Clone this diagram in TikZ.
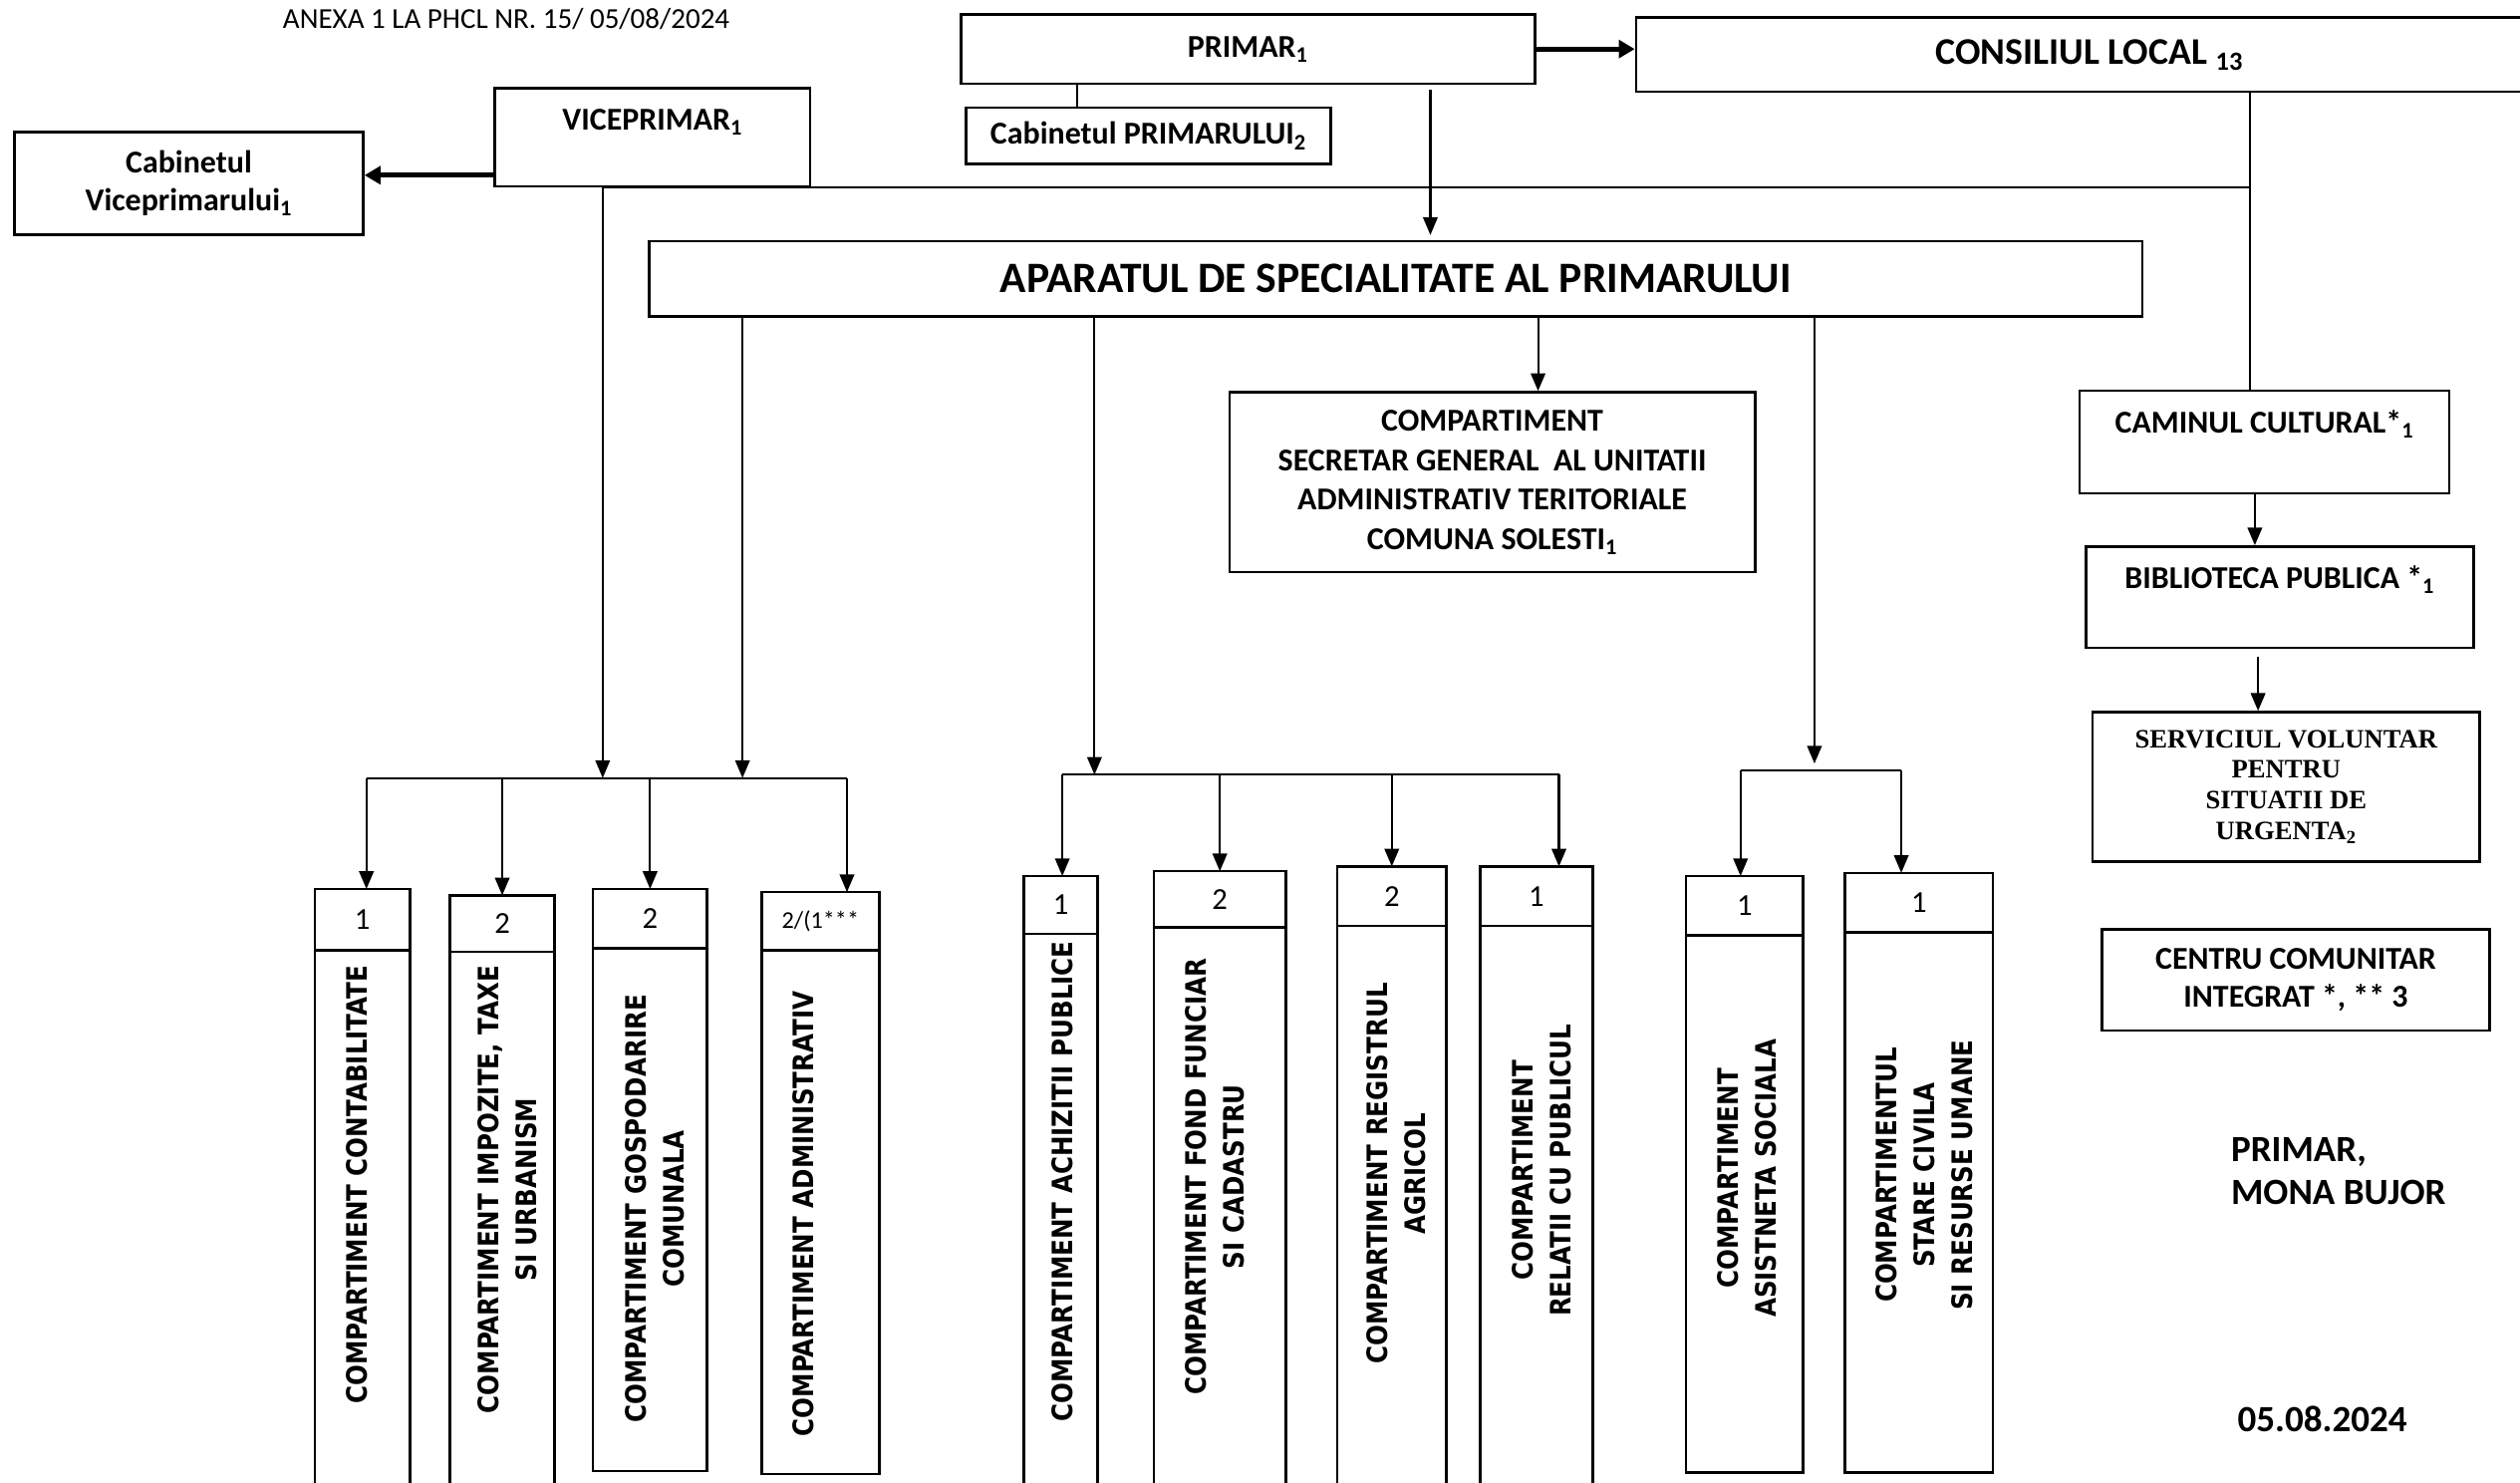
\documentclass[tikz,border=0pt]{standalone}
\usepackage{fontspec}
\setmainfont{Carlito}
\newfontfamily\vertfont[FakeStretch=0.87]{DejaVu Sans}
\newfontfamily\serviciufont{Liberation Serif}
\usetikzlibrary{arrows.meta}

\tikzset{
  box/.style={draw, line width=1.6pt, inner sep=0pt, align=center, font=\fontsize{19.8}{24}\selectfont\bfseries},
  numcell/.style={draw, line width=1.6pt, inner sep=0pt, outer sep=0pt, font=\fontsize{19}{22}\selectfont},
  vtext/.style={rotate=90, align=center, inner sep=0pt, font=\vertfont\fontsize{17.5}{23.5}\selectfont\bfseries},
  link/.style={line width=1.3pt},
  arr/.style={line width=1.3pt, -{Triangle[length=11pt, width=9pt]}},
  bigarr/.style={line width=3pt, -{Triangle[length=10pt, width=11pt]}},
}

\begin{document}
\begin{tikzpicture}[x=1pt, y=-1pt]
\useasboundingbox (0,0) rectangle (1568,922);
\fill[white] (0,0) rectangle (1568,922);

\node[font=\fontsize{18}{22}\selectfont] (anexa) at (315,12) {ANEXA 1 LA PHCL NR. 15/ 05/08/2024};

\node[box, minimum width=357pt, minimum height=43pt] (primar) at (776.5,30.5) {PRIMAR\textsubscript{1}};
\node[box, minimum width=227pt, minimum height=35pt] (cabprimar) at (714.5,84.5) {Cabinetul PRIMARULUI\textsubscript{2}};
\node[box, minimum width=564pt, minimum height=46pt, font=\fontsize{23.4}{28}\selectfont\bfseries] (consiliu) at (1300,34) {CONSILIUL LOCAL \textsubscript{13}};
\node[box, minimum width=196pt, minimum height=61pt] (vice) at (406,85.5) {VICEPRIMAR\textsubscript{1}\\[-9pt] \strut};
\node[box, minimum width=217pt, minimum height=64pt] (cabvice) at (117.5,114) {Cabinetul\\Viceprimarului\textsubscript{1}};
\node[box, minimum width=929pt, minimum height=47pt, font=\fontsize{27}{30}\selectfont\bfseries] (aparat) at (868.5,173.5) {APARATUL DE SPECIALITATE AL PRIMARULUI};
\node[box, minimum width=327pt, minimum height=112pt, font=\fontsize{19.8}{24.5}\selectfont\bfseries] (secretar) at (928.5,300) {COMPARTIMENT\\SECRETAR GENERAL\ \ AL UNITATII\\ADMINISTRATIV TERITORIALE\\COMUNA SOLESTI\textsubscript{1}};

\node[box, minimum width=230pt, minimum height=64pt] (camin) at (1409,275) {CAMINUL CULTURAL*\textsubscript{1}\\[-6pt] \strut};
\node[box, minimum width=241pt, minimum height=63pt] (biblio) at (1418.5,371.5) {BIBLIOTECA PUBLICA *\textsubscript{1}\\[-6pt] \strut};
\node[box, minimum width=241pt, minimum height=93pt, font=\serviciufont\fontsize{16.5}{19}\selectfont\bfseries] (voluntar) at (1422.5,489.5) {SERVICIUL VOLUNTAR\\PENTRU\\SITUATII DE\\URGENTA\textsubscript{2}};
\node[box, minimum width=241pt, minimum height=63pt] (centru) at (1428.5,609.5) {CENTRU COMUNITAR\\INTEGRAT *, ** 3};

\node[anchor=west, align=left, inner sep=0pt, font=\fontsize{23}{27}\selectfont\bfseries] (semnatura) at (1388,728.5) {PRIMAR,\\MONA BUJOR};
\node[font=\fontsize{23}{27}\selectfont\bfseries] (data) at (1445,883) {05.08.2024};

\node[numcell, minimum width=59pt, minimum height=38pt] (nrA) at (225.5,572) {1};
\node[numcell, minimum width=59pt, minimum height=339pt, anchor=north] (bodyA) at (nrA.south) {};
\node[vtext] (txA) at (222,737) {COMPARTIMENT CONTABILITATE};

\node[numcell, minimum width=65pt, minimum height=35pt] (nrB) at (312.5,574.5) {2};
\node[numcell, minimum width=65pt, minimum height=338pt, anchor=north] (bodyB) at (nrB.south) {};
\node[vtext] (txB) at (315.5,740) {COMPARTIMENT IMPOZITE, TAXE\\SI URBANISM};

\node[numcell, minimum width=71pt, minimum height=37pt] (nrC) at (404.5,571.5) {2};
\node[numcell, minimum width=71pt, minimum height=325pt, anchor=north] (bodyC) at (nrC.south) {};
\node[vtext] (txC) at (407.5,752) {COMPARTIMENT GOSPODARIRE\\COMUNALA};

\node[numcell, minimum width=73pt, minimum height=36pt, font=\fontsize{15}{18}\selectfont] (nrD) at (510.5,573) {2/(1***};
\node[numcell, minimum width=73pt, minimum height=326pt, anchor=north] (bodyD) at (nrD.south) {};
\node[vtext] (txD) at (500,755) {COMPARTIMENT ADMINISTRATIV};

\node[numcell, minimum width=46pt, minimum height=36pt] (nrE) at (660,563) {1};
\node[numcell, minimum width=46pt, minimum height=349pt, anchor=north] (bodyE) at (nrE.south) {};
\node[vtext] (txE) at (661,735) {COMPARTIMENT ACHIZITII PUBLICE};

\node[numcell, minimum width=82pt, minimum height=35pt] (nrF) at (759,559.5) {2};
\node[numcell, minimum width=82pt, minimum height=353pt, anchor=north] (bodyF) at (nrF.south) {};
\node[vtext] (txF) at (756,732) {COMPARTIMENT FOND FUNCIAR\\SI CADASTRU};

\node[numcell, minimum width=68pt, minimum height=37pt] (nrG) at (866,557.5) {2};
\node[numcell, minimum width=68pt, minimum height=354pt, anchor=north] (bodyG) at (nrG.south) {};
\node[vtext] (txG) at (868.5,730) {COMPARTIMENT REGISTRUL\\AGRICOL};

\node[numcell, minimum width=70pt, minimum height=37pt] (nrH) at (956,557.5) {1};
\node[numcell, minimum width=70pt, minimum height=354pt, anchor=north] (bodyH) at (nrH.south) {};
\node[vtext] (txH) at (959,728) {COMPARTIMENT\\RELATII CU PUBLICUL};

\node[numcell, minimum width=73pt, minimum height=37pt] (nrI) at (1085.5,563.5) {1};
\node[numcell, minimum width=73pt, minimum height=334pt, anchor=north] (bodyI) at (nrI.south) {};
\node[vtext] (txI) at (1087,733) {COMPARTIMENT\\ASISTNETA SOCIALA};

\node[numcell, minimum width=92pt, minimum height=37pt] (nrJ) at (1194,561.5) {1};
\node[numcell, minimum width=92pt, minimum height=336pt, anchor=north] (bodyJ) at (nrJ.south) {};
\node[vtext] (txJ) at (1197.5,731) {COMPARTIMENTUL\\STARE CIVILA\\SI RESURSE UMANE};

\coordinate (xcab) at (670,0);
\coordinate (xap) at (890,0);
\coordinate (xvice) at (375,0);
\coordinate (xcl) at (1400,0);
\coordinate (xcam) at (1403,0);
\coordinate (xbib) at (1405,0);
\coordinate (yvice) at (0,109);
\coordinate (xap1) at (462,0);
\coordinate (xap2) at (681,0);
\coordinate (xap3) at (957,0);
\coordinate (xap4) at (1129,0);
\coordinate (bus1w) at (228,484);
\coordinate (bus1e) at (527,484);
\coordinate (bus2w) at (661,482);
\coordinate (bus2e) at (970,482);
\coordinate (bus3w) at (1083,479);
\coordinate (bus3e) at (1183,479);

\draw[bigarr] (primar.east) -- (consiliu.west |- primar.east);
\draw[link] (primar.south -| xcab) -- (cabprimar.north -| xcab);
\draw[arr, shorten <=3pt, shorten >=3pt] (primar.south -| xap) -- (aparat.north -| xap);
\draw[bigarr] (vice.west |- yvice) -- (cabvice.east |- yvice);
\draw[link] (xvice |- vice.south) -- (xcl |- vice.south);
\draw[link] (consiliu.south -| xcl) -- (camin.north -| xcl);
\draw[arr] (camin.south -| xcam) -- (biblio.north -| xcam);
\draw[arr, shorten <=5pt] (biblio.south -| xbib) -- (voluntar.north -| xbib);

\draw[arr] (vice.south -| xvice) -- (xvice |- bus1w);
\draw[arr] (aparat.south -| xap1) -- (xap1 |- bus1w);
\draw[link] (bus1w) -- (bus1e);
\draw[arr] (bus1w) -- (bus1w |- nrA.north);
\draw[arr] (nrB.north |- bus1w) -- (nrB.north);
\draw[arr] (nrC.north |- bus1w) -- (nrC.north);
\draw[arr] (bus1e) -- (bus1e |- nrD.north);

\draw[arr] (aparat.south -| xap2) -- (xap2 |- bus2w);
\draw[link] (bus2w) -- (bus2e);
\draw[arr] (bus2w) -- (bus2w |- nrE.north);
\draw[arr] (nrF.north |- bus2w) -- (nrF.north);
\draw[arr] (nrG.north |- bus2w) -- (nrG.north);
\draw[arr] (bus2e) -- (bus2e |- nrH.north);

\draw[arr] (aparat.south -| xap3) -- (secretar.north -| xap3);

\draw[arr, shorten >=4pt] (aparat.south -| xap4) -- (xap4 |- bus3w);
\draw[link] (bus3w) -- (bus3e);
\draw[arr] (bus3w) -- (bus3w |- nrI.north);
\draw[arr] (bus3e) -- (bus3e |- nrJ.north);
\end{tikzpicture}
\end{document}
